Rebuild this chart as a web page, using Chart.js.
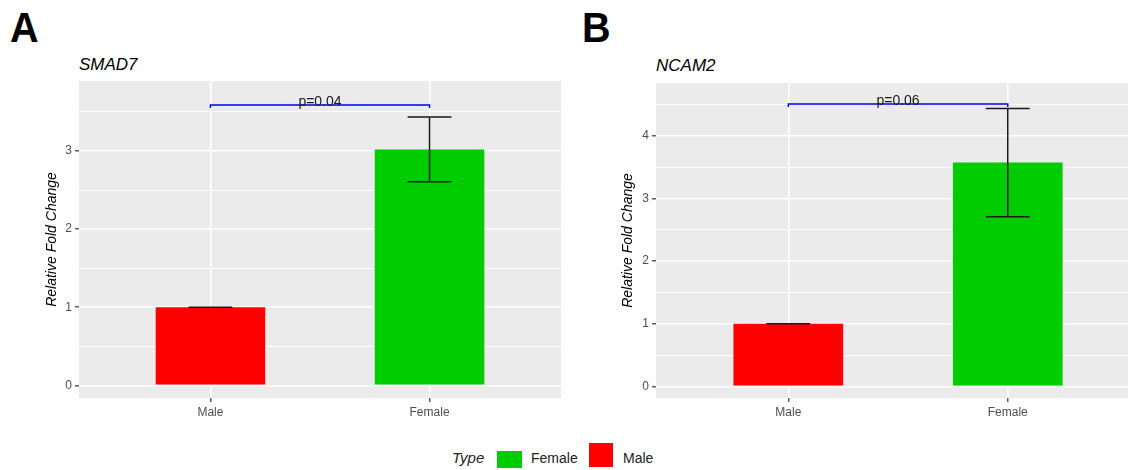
<!DOCTYPE html>
<html>
<head>
<meta charset="utf-8">
<script src="https://cdn.jsdelivr.net/npm/chart.js@4/dist/chart.umd.min.js"></script>
<style>
  html, body { margin: 0; padding: 0; background: #fff; }
  #wrap { position: relative; width: 1128px; height: 470px; overflow: hidden;
          font-family: "Liberation Sans", Arial, sans-serif; }
  canvas { position: absolute; top: 0; }
  .lbl { position: absolute; white-space: nowrap; color: #000; }
  .panel { font-size: 43px; font-weight: bold; line-height: 43px; transform: scaleX(0.92); transform-origin: left top; }
  .ttl { font-size: 17px; font-style: italic; line-height: 17px; }
  .leg { font-size: 14px; line-height: 14px; color: #222; }
  .sw { position: absolute; }
</style>
</head>
<body>
<div id="wrap">
  <div class="lbl panel" style="left:10px; top:6px;">A</div>
  <div class="lbl panel" style="left:582px; top:6px;">B</div>
  <div class="lbl ttl" style="left:79px; top:56px;">SMAD7</div>
  <div class="lbl ttl" style="left:656px; top:57px;">NCAM2</div>

  <canvas id="chartA" width="564" height="430" style="left:0px;"></canvas>
  <canvas id="chartB" width="564" height="430" style="left:564px;"></canvas>

  <div class="lbl" style="left:452px; top:450px; font-size:15px; line-height:15px; font-style:italic; color:#222;">Type</div>
  <div class="sw" style="left:497px; top:451px; width:25px; height:17px; background:#00CC00;"></div>
  <div class="lbl leg" style="left:531px; top:451px;">Female</div>
  <div class="sw" style="left:589px; top:443px; width:24px; height:24px; background:#FF0000;"></div>
  <div class="lbl leg" style="left:623px; top:451px;">Male</div>
</div>

<script>
// ---- data ----
var groups     = ['Male', 'Female'];
var groupX     = [1, 2];
var barColors  = ['#FF0000', '#00CC00'];

var smad7Mean     = [1.0, 3.02];
var smad7Err      = [0.0, 0.415];
var smad7P        = 'p=0.04';
var smad7BracketY = 3.59;
var smad7Ticks    = [0, 0.5, 1, 1.5, 2, 2.5, 3, 3.5];

var ncam2Mean     = [1.0, 3.57];
var ncam2Err      = [0.0, 0.865];
var ncam2P        = 'p=0.06';
var ncam2BracketY = 4.505;
var ncam2Ticks    = [0, 0.5, 1, 1.5, 2, 2.5, 3, 3.5, 4, 4.5];

Chart.defaults.font.family = '"Liberation Sans", Arial, sans-serif';
Chart.defaults.animation = false;

// grey panel behind the plot
var panelBg = {
  id: 'panelBg',
  beforeDraw: function (chart) {
    var a = chart.chartArea, c = chart.ctx;
    c.save();
    c.fillStyle = '#EBEBEB';
    c.fillRect(a.left, a.top, a.right - a.left, a.bottom - a.top);
    c.restore();
  }
};

// error bars with caps, drawn through the scales
var errorBarPlugin = {
  id: 'errorBars',
  afterDatasetsDraw: function (chart) {
    var o = chart.options.plugins.errorBars;
    var xs = chart.scales.x, ys = chart.scales.y, c = chart.ctx;
    c.save();
    c.strokeStyle = '#1a1a1a';
    c.lineWidth = 1.5;
    for (var i = 0; i < o.mean.length; i++) {
      var x  = xs.getPixelForValue(groupX[i]);
      var xl = xs.getPixelForValue(groupX[i] - 0.1);
      var xr = xs.getPixelForValue(groupX[i] + 0.1);
      var yt = ys.getPixelForValue(o.mean[i] + o.err[i]);
      var yb = ys.getPixelForValue(o.mean[i] - o.err[i]);
      c.beginPath();
      c.moveTo(xl, yt); c.lineTo(xr, yt);
      c.moveTo(xl, yb); c.lineTo(xr, yb);
      c.moveTo(x, yt);  c.lineTo(x, yb);
      c.stroke();
    }
    c.restore();
  }
};

// significance bracket with p value
var bracketPlugin = {
  id: 'bracket',
  afterDraw: function (chart) {
    var o = chart.options.plugins.bracket;
    var xs = chart.scales.x, ys = chart.scales.y, c = chart.ctx;
    var x1 = xs.getPixelForValue(groupX[0]);
    var x2 = xs.getPixelForValue(groupX[1]);
    var y  = ys.getPixelForValue(o.y);
    c.save();
    c.strokeStyle = '#0000FF';
    c.lineWidth = 1.5;
    c.beginPath();
    c.moveTo(x1, y + 3); c.lineTo(x1, y); c.lineTo(x2, y); c.lineTo(x2, y + 3);
    c.stroke();
    c.fillStyle = '#1a1a1a';
    c.font = '14px "Liberation Sans", Arial, sans-serif';
    c.textAlign = 'center';
    c.textBaseline = 'alphabetic';
    c.fillText(o.text, (x1 + x2) / 2, y + 1);
    c.restore();
  }
};

function isMajor(v) { return Math.abs(v - Math.round(v)) < 1e-9; }

function makeChart(id, mean, err, pText, bracketY, yTicks, yMin, yMax, xMin, xMax, pad, yWidth) {
  var ctx = document.getElementById(id).getContext('2d');
  return new Chart(ctx, {
    type: 'bar',
    plugins: [panelBg, errorBarPlugin, bracketPlugin],
    data: {
      datasets: [{
        data: groupX.map(function (x, i) { return { x: x, y: mean[i] }; }),
        backgroundColor: barColors,
        borderWidth: 0,
        categoryPercentage: 1,
        barPercentage: 0.5
      }]
    },
    options: {
      responsive: false,
      layout: { padding: pad },
      events: [],
      plugins: {
        legend: { display: false },
        tooltip: { enabled: false },
        errorBars: { mean: mean, err: err },
        bracket: { y: bracketY, text: pText }
      },
      scales: {
        x: {
          type: 'linear',
          min: xMin,
          max: xMax,
          offset: false,
          afterBuildTicks: function (s) { s.ticks = groupX.map(function (v) { return { value: v }; }); },
          afterFit: function (s) { s.height = 32; },
          grid: { offset: false, color: '#FFFFFF', lineWidth: 1.6, tickColor: '#333333', tickLength: 4, tickWidth: 1.2 },
          border: { display: false },
          ticks: {
            color: '#4D4D4D',
            font: { size: 12 },
            padding: 3,
            maxRotation: 0,
            callback: function (v) { return groups[groupX.indexOf(v)]; }
          }
        },
        y: {
          min: yMin,
          max: yMax,
          afterBuildTicks: function (s) { s.ticks = yTicks.map(function (v) { return { value: v }; }); },
          afterFit: function (s) { s.width = yWidth; },
          grid: {
            color: '#FFFFFF',
            lineWidth: function (c) { return c.tick && isMajor(c.tick.value) ? 1.6 : 0.9; },
            tickColor: function (c) { return c.tick && isMajor(c.tick.value) ? '#333333' : 'rgba(0,0,0,0)'; },
            tickLength: 4,
            tickWidth: 1.2
          },
          border: { display: false },
          title: {
            display: true,
            text: 'Relative Fold Change',
            color: '#000000',
            font: { size: 14, style: 'italic' },
            padding: { top: 4, bottom: 4 }
          },
          ticks: {
            color: '#4D4D4D',
            font: { size: 12 },
            padding: 3,
            callback: function (v) { return isMajor(v) ? String(v) : ''; }
          }
        }
      }
    }
  });
}

makeChart('chartA', smad7Mean, smad7Err, smad7P, smad7BracketY, smad7Ticks,
          -0.162, 3.896, 0.4, 2.6,
          { top: 81, left: 40, right: 3, bottom: 0 }, 39);

makeChart('chartB', ncam2Mean, ncam2Err, ncam2P, ncam2BracketY, ncam2Ticks,
          -0.185, 4.84, 0.397, 2.548,
          { top: 83, left: 52, right: 0, bottom: 0 }, 40);
</script>
</body>
</html>
